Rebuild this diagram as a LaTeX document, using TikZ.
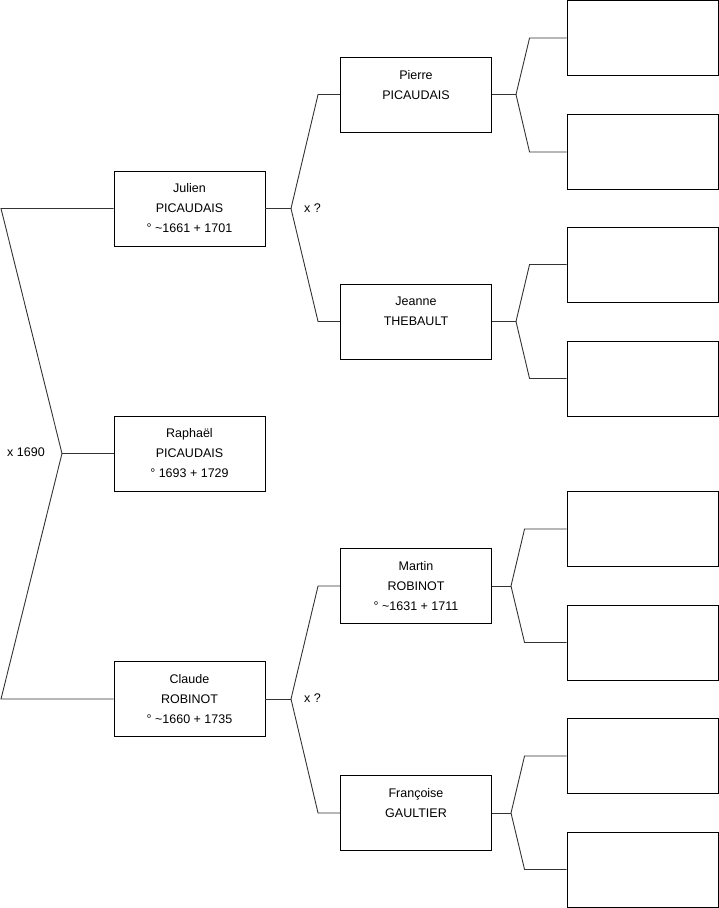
\documentclass[tikz,border=0pt]{standalone}
\usepackage{fontspec}
\setmainfont{Liberation Sans}
\begin{document}
\begin{tikzpicture}[x=1pt,y=-1pt,
  person/.style={draw=black,line width=0.9pt,minimum width=151pt,minimum height=75pt,inner sep=0pt,align=center,font=\fontsize{12.5}{20}\selectfont},
  leaf/.style={draw=black,line width=0.9pt,minimum width=151pt,minimum height=75pt,inner sep=0pt},
  link/.style={draw=black!80,line width=0.9pt},
  lbl/.style={font=\fontsize{12.5}{14}\selectfont,inner sep=0pt}]
\useasboundingbox (0,0) rectangle (719,908);
% generation 1 & 2
\node[person] (julien) at (189.5,208.5) {Julien\\PICAUDAIS\\° \textasciitilde1661 + 1701};
\node[person] (raphael) at (189.5,453.5) {Raphaël\\PICAUDAIS\\° 1693 + 1729};
\node[person] (claude) at (189.5,699) {Claude\\ROBINOT\\° \textasciitilde1660 + 1735};
% generation 3
\node[person] (pierre) at (416,94.5) {Pierre\\PICAUDAIS\\\mbox{}};
\node[person] (jeanne) at (416,321.5) {Jeanne\\THEBAULT\\\mbox{}};
\node[person] (martin) at (416,586) {Martin\\ROBINOT\\° \textasciitilde1631 + 1711};
\node[person] (francoise) at (416,813) {Françoise\\GAULTIER\\\mbox{}};
% generation 4
\node[leaf] (r1) at (642.5,38) {};
\node[leaf] (r2) at (642.5,152) {};
\node[leaf] (r3) at (642.5,264.5) {};
\node[leaf] (r4) at (642.5,378.5) {};
\node[leaf] (r5) at (642.5,529) {};
\node[leaf] (r6) at (642.5,642.5) {};
\node[leaf] (r7) at (642.5,756) {};
\node[leaf] (r8) at (642.5,869.5) {};
% junctions
\coordinate (ja) at (1,208.5);
\coordinate (jb) at (62,453.5);
\coordinate (jc) at (1,699);
\coordinate (pj) at (291,208.5);
\coordinate (pc) at (291,699);
\coordinate (jp) at (516,94.5);
\coordinate (jj) at (516,321.5);
\coordinate (jm) at (511,586);
\coordinate (jf) at (511,813);
% left bracket
\draw[link] (julien.west) -- (ja) -- (jb) -- (jc) -- (claude.west);
\draw[link] (jb) -- (raphael.west);
\node[lbl] (m1) at (26,452) {x 1690};
% second brackets
\draw[link] (julien.east) -- (pj);
\draw[link] (pierre.west) -- ++(-22,0) -- (pj) -- ([xshift=-22pt]jeanne.west) -- (jeanne.west);
\node[lbl] (m2) at (312.5,208) {x ?};
\draw[link] (claude.east) -- (pc);
\draw[link] (martin.west) -- ++(-22,0) -- (pc) -- ([xshift=-22pt]francoise.west) -- (francoise.west);
\node[lbl] (m3) at (312.5,698) {x ?};
% third brackets
\draw[link] (pierre.east) -- (jp);
\draw[link] (r1.west) -- ++(-37,0) -- (jp) -- ([xshift=-37pt]r2.west) -- (r2.west);
\draw[link] (jeanne.east) -- (jj);
\draw[link] (r3.west) -- ++(-37,0) -- (jj) -- ([xshift=-37pt]r4.west) -- (r4.west);
\draw[link] (martin.east) -- (jm);
\draw[link] (r5.west) -- ++(-42,0) -- (jm) -- ([xshift=-42pt]r6.west) -- (r6.west);
\draw[link] (francoise.east) -- (jf);
\draw[link] (r7.west) -- ++(-42,0) -- (jf) -- ([xshift=-42pt]r8.west) -- (r8.west);
\end{tikzpicture}
\end{document}
